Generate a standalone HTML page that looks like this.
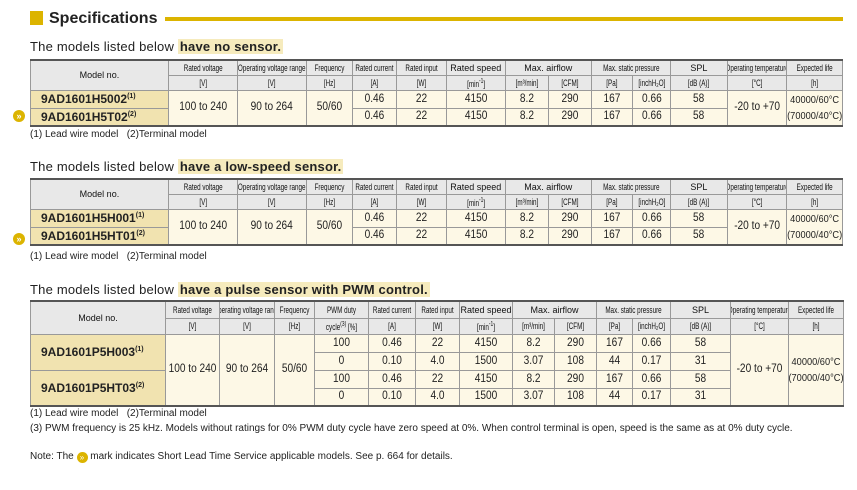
<!DOCTYPE html><html><head><style>
body{margin:0;width:857px;height:490px;background:#fff;position:relative;font-family:"Liberation Sans",sans-serif;color:#222;overflow:hidden}
.a{position:absolute}
h1{position:absolute;left:30px;top:9px;margin:0;font-size:16px;font-weight:bold;line-height:20px}
.sq{position:absolute;left:30px;top:11px;width:13px;height:14px;background:#dcb400}
.bar{position:absolute;left:165px;top:17px;width:678px;height:4px;background:#dcb400}
.t{font-size:13px;letter-spacing:0.2px}
.hl{background:#f6ebbd;font-weight:bold;padding:0 2px}
table{position:absolute;left:30px;border-collapse:collapse;table-layout:fixed;font-family:"Liberation Sans",sans-serif}
td{border:1px solid #999;text-align:center;padding:0;font-size:11px;white-space:nowrap;overflow:hidden}
tr.h td{background:#e8e8e8;font-size:9px;line-height:12px;color:#111}
tr.h td span{display:block;margin:0 -40px;transform:scaleX(0.7);text-align:center}
td.m{background:#f1e3b0;font-weight:bold;font-size:12px;text-align:left;padding-left:10px}
td.d{background:#fdf8e6;font-size:11.5px;line-height:15px}
td.d span{display:block;margin:0 -30px;transform:scaleX(0.88);text-align:center}
table{border-top:2px solid #555;border-bottom:2px solid #555}
tr.h td.mh{font-size:9px}
tr.h td.mh span{transform:none}
sup{font-size:7px}
.fn{font-size:10px;position:absolute;left:30px}
.ic{position:absolute;left:13px;width:12px;height:12px;border-radius:6px;background:#dcb400;color:#fff;font-size:9px;line-height:12px;text-align:center;font-weight:bold}
</style></head><body>
<div class="sq"></div><h1 style="left:49px">Specifications</h1><div class="bar"></div>

<div class="a t" style="left:30px;top:39px">The models listed below <span class="hl">have no sensor.</span></div>
<table style="top:59px;width:813px">
<colgroup><col style="width:135px"><col style="width:68px"><col style="width:67px"><col style="width:45px"><col style="width:43px"><col style="width:49px"><col style="width:58px"><col style="width:42px"><col style="width:42px"><col style="width:40px"><col style="width:38px"><col style="width:55px"><col style="width:58px"><col style="width:55px"></colgroup>
<tr class="h" style="height:15px"><td rowspan="2" class="mh"><span>Model no.</span></td><td><span>Rated voltage</span></td><td><span>Operating voltage range</span></td><td><span>Frequency</span></td><td><span>Rated current</span></td><td><span>Rated input</span></td><td class="mh"><span>Rated speed</span></td><td colspan="2" class="mh"><span>Max. airflow</span></td><td colspan="2"><span>Max. static pressure</span></td><td class="mh"><span>SPL</span></td><td><span>Operating temperature</span></td><td><span>Expected life</span></td></tr>
<tr class="h" style="height:14px"><td><span>[V]</span></td><td><span>[V]</span></td><td><span>[Hz]</span></td><td><span>[A]</span></td><td><span>[W]</span></td><td><span>[min<sup>-1</sup>]</span></td><td><span>[m³/min]</span></td><td><span>[CFM]</span></td><td><span>[Pa]</span></td><td><span>[inchH₂O]</span></td><td><span>[dB (A)]</span></td><td><span>[°C]</span></td><td><span>[h]</span></td></tr>
<tr style="height:18px"><td class="m">9AD1601H5002<sup>(1)</sup></td><td class="d" rowspan="2"><span>100 to 240</span></td><td class="d" rowspan="2"><span>90 to 264</span></td><td class="d" rowspan="2"><span>50/60</span></td><td class="d"><span>0.46</span></td><td class="d"><span>22</span></td><td class="d"><span>4150</span></td><td class="d"><span>8.2</span></td><td class="d"><span>290</span></td><td class="d"><span>167</span></td><td class="d"><span>0.66</span></td><td class="d"><span>58</span></td><td class="d" rowspan="2"><span>-20 to +70</span></td><td class="d" rowspan="2" style="font-size:10.5px;line-height:16px"><span>40000/60°C<br>(70000/40°C)</span></td></tr>
<tr style="height:18px"><td class="m">9AD1601H5T02<sup>(2)</sup></td><td class="d"><span>0.46</span></td><td class="d"><span>22</span></td><td class="d"><span>4150</span></td><td class="d"><span>8.2</span></td><td class="d"><span>290</span></td><td class="d"><span>167</span></td><td class="d"><span>0.66</span></td><td class="d"><span>58</span></td></tr>
</table>
<div class="ic" style="top:110px">»</div>
<div class="fn" style="top:129px">(1) Lead wire model &nbsp; (2)Terminal model</div>

<div class="a t" style="left:30px;top:159px">The models listed below <span class="hl">have a low-speed sensor.</span></div>
<table style="top:178px;width:813px">
<colgroup><col style="width:135px"><col style="width:68px"><col style="width:67px"><col style="width:45px"><col style="width:43px"><col style="width:49px"><col style="width:58px"><col style="width:42px"><col style="width:42px"><col style="width:40px"><col style="width:38px"><col style="width:55px"><col style="width:58px"><col style="width:55px"></colgroup>
<tr class="h" style="height:15px"><td rowspan="2" class="mh"><span>Model no.</span></td><td><span>Rated voltage</span></td><td><span>Operating voltage range</span></td><td><span>Frequency</span></td><td><span>Rated current</span></td><td><span>Rated input</span></td><td class="mh"><span>Rated speed</span></td><td colspan="2" class="mh"><span>Max. airflow</span></td><td colspan="2"><span>Max. static pressure</span></td><td class="mh"><span>SPL</span></td><td><span>Operating temperature</span></td><td><span>Expected life</span></td></tr>
<tr class="h" style="height:14px"><td><span>[V]</span></td><td><span>[V]</span></td><td><span>[Hz]</span></td><td><span>[A]</span></td><td><span>[W]</span></td><td><span>[min<sup>-1</sup>]</span></td><td><span>[m³/min]</span></td><td><span>[CFM]</span></td><td><span>[Pa]</span></td><td><span>[inchH₂O]</span></td><td><span>[dB (A)]</span></td><td><span>[°C]</span></td><td><span>[h]</span></td></tr>
<tr style="height:18px"><td class="m">9AD1601H5H001<sup>(1)</sup></td><td class="d" rowspan="2"><span>100 to 240</span></td><td class="d" rowspan="2"><span>90 to 264</span></td><td class="d" rowspan="2"><span>50/60</span></td><td class="d"><span>0.46</span></td><td class="d"><span>22</span></td><td class="d"><span>4150</span></td><td class="d"><span>8.2</span></td><td class="d"><span>290</span></td><td class="d"><span>167</span></td><td class="d"><span>0.66</span></td><td class="d"><span>58</span></td><td class="d" rowspan="2"><span>-20 to +70</span></td><td class="d" rowspan="2" style="font-size:10.5px;line-height:16px"><span>40000/60°C<br>(70000/40°C)</span></td></tr>
<tr style="height:18px"><td class="m">9AD1601H5HT01<sup>(2)</sup></td><td class="d"><span>0.46</span></td><td class="d"><span>22</span></td><td class="d"><span>4150</span></td><td class="d"><span>8.2</span></td><td class="d"><span>290</span></td><td class="d"><span>167</span></td><td class="d"><span>0.66</span></td><td class="d"><span>58</span></td></tr>
</table>
<div class="ic" style="top:233px">»</div>
<div class="fn" style="top:251px">(1) Lead wire model &nbsp; (2)Terminal model</div>

<div class="a t" style="left:30px;top:282px">The models listed below <span class="hl">have a pulse sensor with PWM control.</span></div>
<table style="top:300px;width:813px">
<colgroup><col style="width:135px"><col style="width:54px"><col style="width:55px"><col style="width:40px"><col style="width:54px"><col style="width:47px"><col style="width:44px"><col style="width:53px"><col style="width:42px"><col style="width:42px"><col style="width:36px"><col style="width:38px"><col style="width:60px"><col style="width:58px"><col style="width:55px"></colgroup>
<tr class="h" style="height:17px"><td rowspan="2" class="mh"><span>Model no.</span></td><td><span>Rated voltage</span></td><td><span>Operating voltage range</span></td><td><span>Frequency</span></td><td><span>PWM duty</span></td><td><span>Rated current</span></td><td><span>Rated input</span></td><td class="mh"><span>Rated speed</span></td><td colspan="2" class="mh"><span>Max. airflow</span></td><td colspan="2"><span>Max. static pressure</span></td><td class="mh"><span>SPL</span></td><td><span>Operating temperature</span></td><td><span>Expected life</span></td></tr>
<tr class="h" style="height:16px"><td><span>[V]</span></td><td><span>[V]</span></td><td><span>[Hz]</span></td><td><span>cycle<sup>(3)</sup> [%]</span></td><td><span>[A]</span></td><td><span>[W]</span></td><td><span>[min<sup>-1</sup>]</span></td><td><span>[m³/min]</span></td><td><span>[CFM]</span></td><td><span>[Pa]</span></td><td><span>[inchH₂O]</span></td><td><span>[dB (A)]</span></td><td><span>[°C]</span></td><td><span>[h]</span></td></tr>
<tr style="height:18px"><td class="m" rowspan="2">9AD1601P5H003<sup>(1)</sup></td><td class="d" rowspan="4"><span>100 to 240</span></td><td class="d" rowspan="4"><span>90 to 264</span></td><td class="d" rowspan="4"><span>50/60</span></td><td class="d"><span>100</span></td><td class="d"><span>0.46</span></td><td class="d"><span>22</span></td><td class="d"><span>4150</span></td><td class="d"><span>8.2</span></td><td class="d"><span>290</span></td><td class="d"><span>167</span></td><td class="d"><span>0.66</span></td><td class="d"><span>58</span></td><td class="d" rowspan="4"><span>-20 to +70</span></td><td class="d" rowspan="4" style="font-size:10.5px;line-height:16px"><span>40000/60°C<br>(70000/40°C)</span></td></tr>
<tr style="height:18px"><td class="d"><span>0</span></td><td class="d"><span>0.10</span></td><td class="d"><span>4.0</span></td><td class="d"><span>1500</span></td><td class="d"><span>3.07</span></td><td class="d"><span>108</span></td><td class="d"><span>44</span></td><td class="d"><span>0.17</span></td><td class="d"><span>31</span></td></tr>
<tr style="height:18px"><td class="m" rowspan="2">9AD1601P5HT03<sup>(2)</sup></td><td class="d"><span>100</span></td><td class="d"><span>0.46</span></td><td class="d"><span>22</span></td><td class="d"><span>4150</span></td><td class="d"><span>8.2</span></td><td class="d"><span>290</span></td><td class="d"><span>167</span></td><td class="d"><span>0.66</span></td><td class="d"><span>58</span></td></tr>
<tr style="height:18px"><td class="d"><span>0</span></td><td class="d"><span>0.10</span></td><td class="d"><span>4.0</span></td><td class="d"><span>1500</span></td><td class="d"><span>3.07</span></td><td class="d"><span>108</span></td><td class="d"><span>44</span></td><td class="d"><span>0.17</span></td><td class="d"><span>31</span></td></tr>
</table>
<div class="fn" style="top:408px">(1) Lead wire model &nbsp; (2)Terminal model</div>
<div class="fn" style="top:423px">(3) PWM frequency is 25 kHz. Models without ratings for 0% PWM duty cycle have zero speed at 0%. When control terminal is open, speed is the same as at 0% duty cycle.</div>
<div class="fn" style="top:451px">Note: The <span style="display:inline-block;width:11px;height:11px;border-radius:6px;background:#dcb400;color:#fff;font-size:8px;line-height:11px;text-align:center;vertical-align:-1px">»</span> mark indicates Short Lead Time Service applicable models. See p. 664 for details.</div>
</body></html>
